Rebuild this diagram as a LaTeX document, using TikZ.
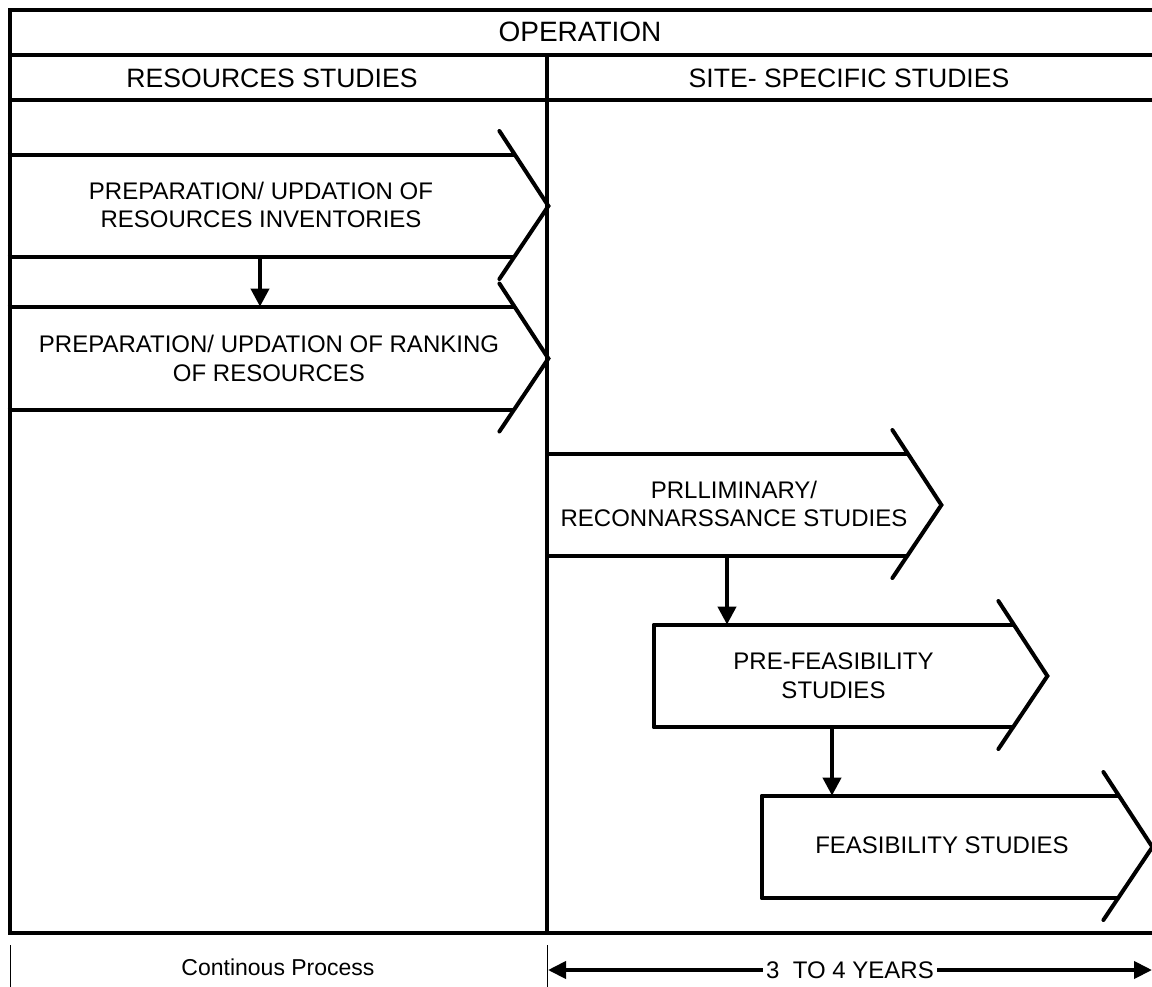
\documentclass[tikz,border=0pt]{standalone}
\usepackage{fontspec}
\setmainfont{Liberation Sans}
\usetikzlibrary{arrows.meta,fit,calc}
\begin{document}
\begin{tikzpicture}[x=0.5pt,y=-0.5pt,
  frameline/.style={line width=2pt},
  boxline/.style={line width=2pt, line join=round},
  chev/.style={line width=2pt, line cap=round},
  area/.style={inner sep=0pt},
  box/.style={inner sep=0pt, align=center, font=\fontsize{12}{14.4}\selectfont},
  head/.style={inner sep=0pt, font=\fontsize{13.3}{16}\selectfont},
  conn/.style={line width=2pt, -{Triangle[length=9pt,width=9pt]}},
  thin/.style={line width=0.5pt},
  dimarrow/.style={line width=2pt, {Triangle[length=9pt,width=8.5pt]}-{Triangle[length=9pt,width=8.5pt]}}]
\clip (0,0) rectangle (1152,986);
\fill[white] (0,0) rectangle (1152,986);

% table frame
\draw[frameline] (1160,10) -- (10,10) -- (10,933) -- (1160,933);
\draw[frameline] (10,55) -- (1160,55);
\draw[frameline] (10,100) -- (1160,100);
\draw[frameline] (547,55) -- (547,933);

% headers
\node[head, font=\fontsize{14}{16}\selectfont] (op) at (580,32) {OPERATION};
\node[head] (rs) at (272,78) {RESOURCES STUDIES};
\node[head] (ss) at (849,78) {SITE- SPECIFIC STUDIES};

% process boxes
\node[area, fit={(8,155) (514,257)}] (b1) {};
\node[area, fit={(8,307) (514,410)}] (b2) {};
\node[area, fit={(547,454) (907,556)}] (b3) {};
\node[area, fit={(654,625) (1013,727)}] (b4) {};
\node[area, fit={(762,796) (1118,898)}] (b5) {};

\node[box] (t1) at ($(b1.center)+(0,-1)$) {PREPARATION/ UPDATION OF\\RESOURCES INVENTORIES};
\node[box] (t2) at ($(b2.center)+(8,0)$) {PREPARATION/ UPDATION OF RANKING\\OF RESOURCES};
\node[box] (t3) at ($(b3.center)+(7,-1)$) {PRLLIMINARY/\\RECONNARSSANCE STUDIES};
\node[box] (t4) at (b4.center) {PRE-FEASIBILITY\\STUDIES};
\node[box] (t5) at ($(b5.center)+(2,-2)$) {FEASIBILITY STUDIES};

% box outlines
\draw[boxline] (b1.north west) -- (b1.north east) (b1.south west) -- (b1.south east);
\draw[boxline] (b2.north west) -- (b2.north east) (b2.south west) -- (b2.south east);
\draw[boxline] (b3.north west) -- (b3.north east) (b3.south west) -- (b3.south east);
\draw[boxline] (b4.north east) -- (b4.north west) -- (b4.south west) -- (b4.south east);
\draw[boxline] (b5.north east) -- (b5.north west) -- (b5.south west) -- (b5.south east);

% chevrons
\foreach \b in {b1,b2,b3,b4,b5}{
  \draw[chev] ($(\b.east)+(-15,-75)$) -- ($(\b.east)+(34,0)$) -- ($(\b.east)+(-15,73)$);
}

% connectors
\coordinate (x1) at (260,0);
\coordinate (x2) at (727,0);
\coordinate (x3) at (832,0);
\draw[conn] (b1.south -| x1) -- (b2.north -| x1);
\draw[conn] (b3.south -| x2) -- (b4.north -| x2);
\draw[conn] (b4.south -| x3) -- (b5.north -| x3);

% bottom
\draw[thin] (10,945) -- (10,990);
\draw[thin] (547,945) -- (547,990);
\node[font=\fontsize{11.5}{14}\selectfont] (cp) at (278,967) {Continous Process};
\coordinate (yl) at (548,970);
\coordinate (yr) at (1152,970);
\draw[dimarrow] (yl) -- node[fill=white, inner sep=1.5pt, font=\fontsize{12}{14}\selectfont] (yrs) {3\ \ TO 4 YEARS} (yr);
\end{tikzpicture}
\end{document}
